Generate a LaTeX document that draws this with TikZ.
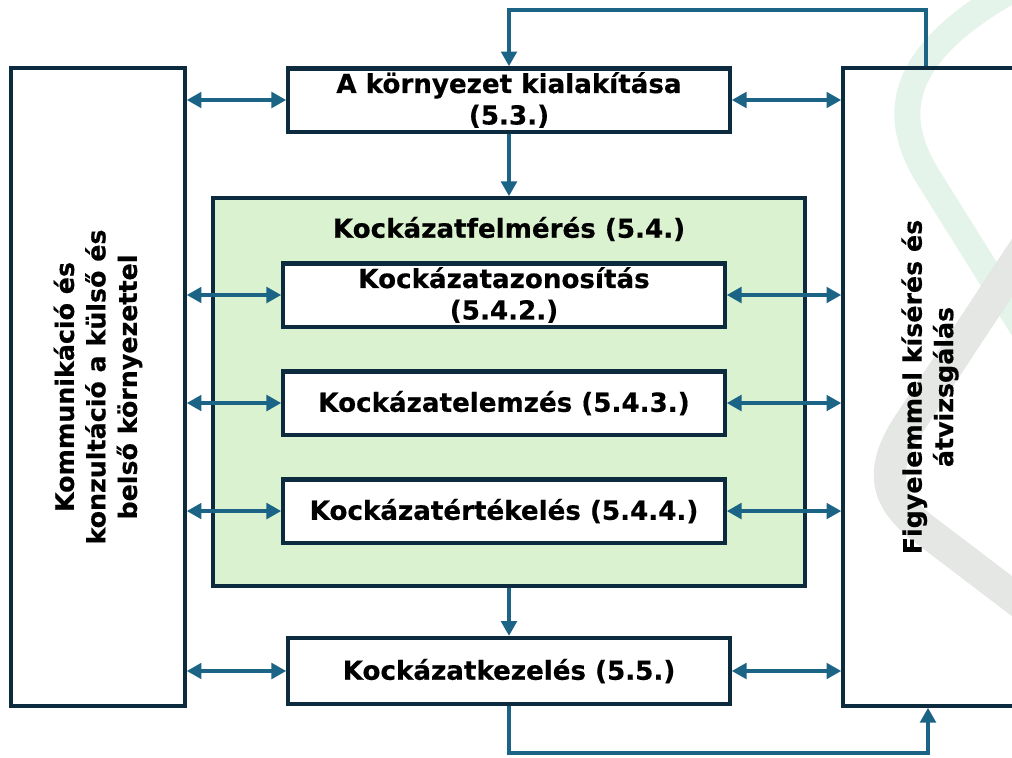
\documentclass[tikz,border=0pt]{standalone}
\usepackage{fontspec}
\setmainfont{DejaVu Sans}[BoldFeatures={FakeBold=0.5}]
\usetikzlibrary{arrows.meta,positioning}
\definecolor{framenavy}{HTML}{0D2B3E}
\definecolor{flowblue}{HTML}{1B6485}
\definecolor{assessgreen}{HTML}{DAF2D0}
\definecolor{bandgreen}{HTML}{E4F4EA}
\definecolor{bandgray}{HTML}{E5E7E5}
\tikzstyle{procbox} = [rectangle, draw = framenavy, line width = 3pt, fill = white, minimum width = 11.03cm, minimum height = 1.58cm, align = center, inner sep = 0pt, font = \fontsize{18.6}{22.4}\selectfont\bfseries]
\tikzstyle{sidebox} = [rectangle, draw = framenavy, line width = 3pt, minimum width = 4.33cm, minimum height = 15.93cm, inner sep = 0pt]
\tikzstyle{sidetext} = [align = center, rotate = 90, font = \fontsize{18}{22.4}\selectfont\bfseries]
\tikzstyle{flow} = [draw = flowblue, line width = 2.8pt, -{Triangle[length=10.5pt,width=11pt]}]
\tikzstyle{dflow} = [draw = flowblue, line width = 2.8pt, {Triangle[length=10.5pt,width=11pt]}-{Triangle[length=10.5pt,width=11pt]}]

\begin{document}
\begin{tikzpicture}[x=0.025cm, y=-0.025cm, node distance = 2.7cm]
        \useasboundingbox (0,0) rectangle (1012,757);
        % faint logo behind the chart
        \draw [bandgreen, line width = 0.65cm] (1040,-25) .. controls (900,45) and (885,110) .. (930,180) -- (1080,420);
        \draw [bandgray, line width = 0.8cm] (1060,195) -- (905,430) .. controls (880,472) and (885,500) .. (925,530) -- (1050,625);
        \node (comm)  [sidebox, fill = white] at (98,387) {};
        \node (monit) [sidebox] at (930,387) {};
        \node (commtxt)  [sidetext] at (comm) {Kommunikáció és\\konzultáció a külső és\\belső környezettel};
        \node (monittxt) [sidetext] at (monit) {Figyelemmel kísérés és\\átvizsgálás};
        \node (env)    [procbox] at (509,100) {A környezet kialakítása\\(5.3.)};
        \node (assess) [rectangle, draw = framenavy, line width = 3pt, fill = assessgreen, minimum width = 14.78cm, minimum height = 9.68cm] at (509,392) {};
        \node (assesslbl) [font = \fontsize{18.6}{22.4}\selectfont\bfseries] at (509,229) {Kockázatfelmérés (5.4.)};
        \node (ident)  [procbox] at (504,295) {Kockázatazonosítás\\(5.4.2.)};
        \node (analys) [procbox, below of=ident] {Kockázatelemzés (5.4.3.)};
        \node (evalu)  [procbox, below of=analys] {Kockázatértékelés (5.4.4.)};
        \node (treat)  [procbox, minimum height = 1.65cm] at (509,671) {Kockázatkezelés (5.5.)};
        \coordinate (topturn) at (926,10);
        \coordinate (botturn) at (928,753);
        \draw [flow] (env) -- (assess);
        \draw [flow] (assess) -- (treat);
        \draw [flow] (monit.north -| topturn) -- (topturn) -| (env.north);
        \draw [flow] (treat.south) |- (botturn) -- (monit.south -| botturn);
        \foreach \blk in {env, ident, analys, evalu, treat} {
            \draw [dflow] (\blk.west -| comm.east) -- (\blk.west);
            \draw [dflow] (\blk.east) -- (\blk.east -| monit.west);
        }
    \end{tikzpicture}
\end{document}
